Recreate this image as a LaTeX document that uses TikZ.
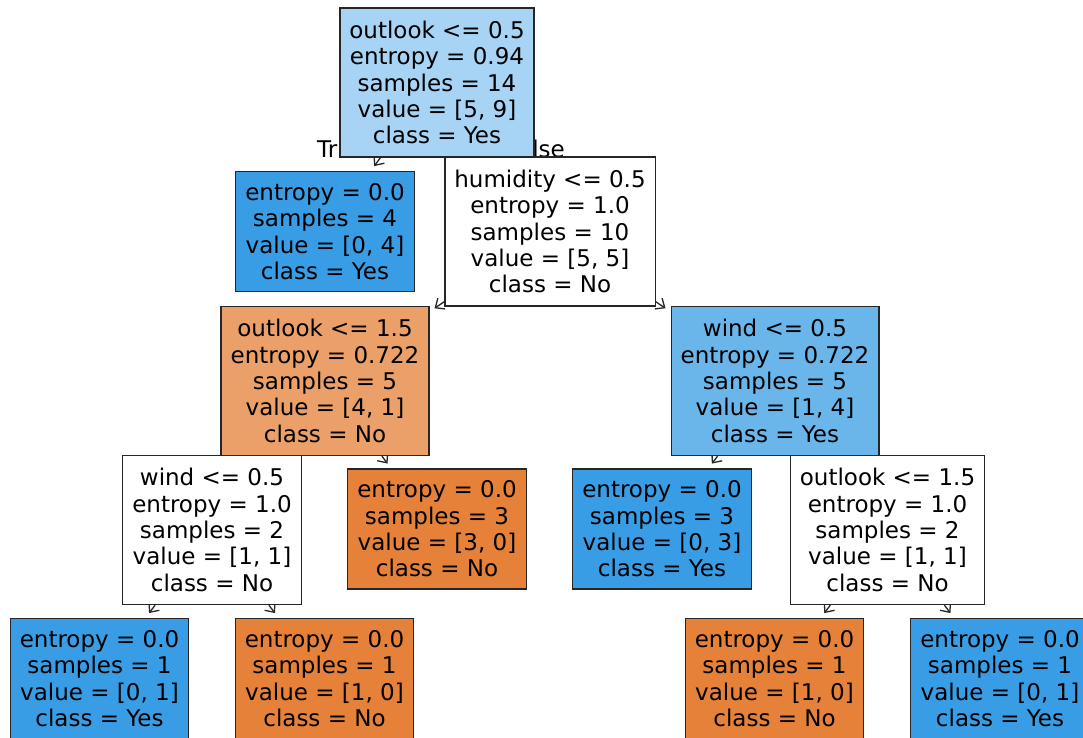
\documentclass[tikz,border=0pt]{standalone}
\usepackage{fontspec}
\setmainfont{DejaVu Sans}
\usetikzlibrary{arrows.meta}
\pgfdeclarelayer{edges}
\pgfsetlayers{edges,main}

% node fills by class purity
\definecolor{blueleaf}{HTML}{399DE5}
\definecolor{orangeleaf}{HTML}{E58139}
\definecolor{blueroot}{HTML}{A7D3F4}
\definecolor{bluemid}{HTML}{6AB6EB}
\definecolor{orangemid}{HTML}{EBA06A}

\tikzset{
  treebox/.style={draw=black!85, line width=1.3pt, align=center,
    inner xsep=9.5pt, inner ysep=0pt,
    font=\fontsize{23}{26.4}\selectfont},
  split/.style={treebox, minimum height=149pt},
  leaf/.style={treebox, minimum height=120pt},
  edge/.style={line width=1.3pt, draw=black!85,
    -{Straight Barb[length=7.5pt,width=13pt,line width=1.3pt]}},
  gapedge/.style={edge, shorten >=6pt},
  branchlabel/.style={inner sep=0pt, font=\fontsize{23}{26.4}\selectfont}
}

\begin{document}
\begin{tikzpicture}[x=1pt, y=-1pt]
\useasboundingbox (0,0) rectangle (1083,738);
\clip (0,0) rectangle (1083,738);

% branch labels sit under the root box
\node[branchlabel, anchor=west] (truelbl) at (317,149) {True};
\node[branchlabel, anchor=east] (falselbl) at (565,149) {False};

% level 0
\node[split, fill=blueroot] (root) at (437,82.5)
  {outlook <= 0.5\\entropy = 0.94\\samples = 14\\value = [5, 9]\\class = Yes};

% level 1
\node[leaf, fill=blueleaf] (n1) at (325,231.5)
  {entropy = 0.0\\samples = 4\\value = [0, 4]\\class = Yes};
\node[split, fill=white] (n2) at (550,231.5)
  {humidity <= 0.5\\entropy = 1.0\\samples = 10\\value = [5, 5]\\class = No};

% level 2
\node[split, fill=orangemid] (n3) at (325,381)
  {outlook <= 1.5\\entropy = 0.722\\samples = 5\\value = [4, 1]\\class = No};
\node[split, fill=bluemid] (n4) at (775,381)
  {wind <= 0.5\\entropy = 0.722\\samples = 5\\value = [1, 4]\\class = Yes};

% level 3
\node[split, fill=white] (n5) at (212,530)
  {wind <= 0.5\\entropy = 1.0\\samples = 2\\value = [1, 1]\\class = No};
\node[leaf, fill=orangeleaf] (n6) at (437,529)
  {entropy = 0.0\\samples = 3\\value = [3, 0]\\class = No};
\node[leaf, fill=blueleaf] (n7) at (662,529)
  {entropy = 0.0\\samples = 3\\value = [0, 3]\\class = Yes};
\node[split, fill=white] (n8) at (887.5,530)
  {outlook <= 1.5\\entropy = 1.0\\samples = 2\\value = [1, 1]\\class = No};

% level 4
\node[leaf, fill=blueleaf] (n9) at (99.5,678.5)
  {entropy = 0.0\\samples = 1\\value = [0, 1]\\class = Yes};
\node[leaf, fill=orangeleaf] (n10) at (324.5,678.5)
  {entropy = 0.0\\samples = 1\\value = [1, 0]\\class = No};
\node[leaf, fill=orangeleaf] (n11) at (774.5,678.5)
  {entropy = 0.0\\samples = 1\\value = [1, 0]\\class = No};
\node[leaf, fill=blueleaf] (n12) at (1000,678.5)
  {entropy = 0.0\\samples = 1\\value = [0, 1]\\class = Yes};

% connectors, kept behind the boxes
\begin{pgfonlayer}{edges}
\draw[gapedge] (root) -- (n1);
\draw[edge] (root) -- (n2);
\draw[gapedge] (n2) -- (n3);
\draw[gapedge] (n2) -- (n4);
\draw[edge] (n3) -- (n5);
\draw[gapedge] (n3) -- (n6);
\draw[gapedge] (n4) -- (n7);
\draw[gapedge] (n4) -- (n8);
\draw[gapedge] (n5) -- (n9);
\draw[gapedge] (n5) -- (n10);
\draw[gapedge] (n8) -- (n11);
\draw[gapedge] (n8) -- (n12);
\end{pgfonlayer}
\end{tikzpicture}
\end{document}
